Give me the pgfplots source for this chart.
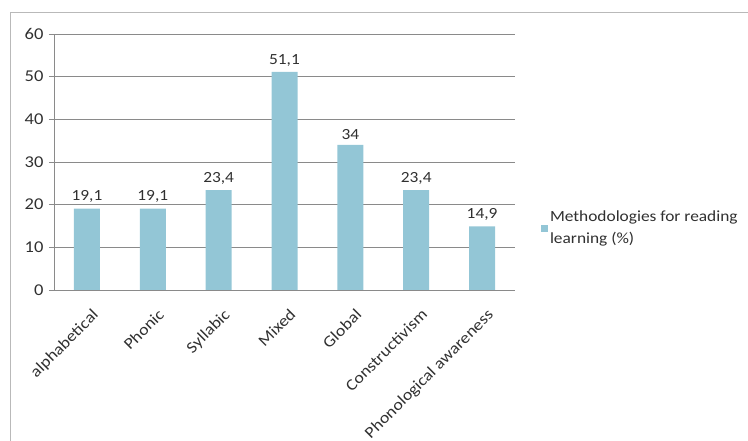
\documentclass[border=0pt]{standalone}
\usepackage{pgfplots}
\pgfplotsset{compat=1.18}
\usepackage{fontspec}
\setmainfont{Carlito}[FakeStretch=1.12]
\definecolor{barc}{HTML}{93C6D6}
\definecolor{axc}{HTML}{8A8A8A}
\definecolor{txt}{HTML}{303030}
\begin{document}
\begin{tikzpicture}
\path[use as bounding box] (0pt,0pt) rectangle (748pt,441pt);
\draw[color=gray!55, line width=1pt] (10pt,0pt) -- (10pt,428pt) -- (748pt,428pt);
\begin{axis}[
  at={(54pt,151pt)}, anchor=south west,
  scale only axis, width=461pt, height=256pt,
  xmin=-0.5, xmax=6.5, ymin=0, ymax=60,
  ytick={0,10,...,60},
  xtick={0,...,6},
  xticklabels={alphabetical,Phonic,Syllabic,Mixed,Global,Constructivism,Phonological awareness},
  x tick label style={rotate=45, anchor=north east, inner sep=1pt, xshift=-5pt, yshift=-11pt, font=\fontsize{16}{18}\selectfont},
  major x tick style={draw=none},
  extra x ticks={-0.5,0.5,...,6.5},
  extra x tick labels={},
  extra x tick style={major tick length=5pt, tick style={draw=axc, line width=0.8pt}, tick align=outside, grid=none},
  ymajorgrids, grid style={axc, line width=0.8pt},
  ytick style={draw=axc, line width=0.8pt},
  tick align=outside, major tick length=5pt,
  axis x line*=bottom, axis y line*=left,
  axis line style={draw=axc, line width=0.8pt, -},
  every tick label/.append style={text=txt},
  yticklabel style={xshift=-2pt, font=\fontsize{16.5}{18}\selectfont},
  /pgf/number format/assume math mode=true,
  ybar, bar width=26pt,
  nodes near coords,
  every node near coord/.append style={font=\fontsize{15.5}{17}\selectfont, text=txt, yshift=2pt},
  nodes near coords style={/pgf/number format/.cd, use comma, fixed, precision=1, assume math mode=true},
  legend style={at={(1.056,0.242)}, anchor=west, draw=none, fill=none, font=\fontsize{15.5}{22}\selectfont, text=txt, cells={align=left}, inner sep=0pt},
  legend image code/.code={\fill[barc] (0pt,-3.5pt) rectangle (7pt,3.5pt);},
  clip=false,
]
\addplot[fill=barc, draw=none] coordinates {(0,19.1) (1,19.1) (2,23.4) (3,51.1) (4,34) (5,23.4) (6,14.9)};
\addlegendentry{Methodologies for reading\\learning (\%)}
\end{axis}
\end{tikzpicture}
\end{document}
